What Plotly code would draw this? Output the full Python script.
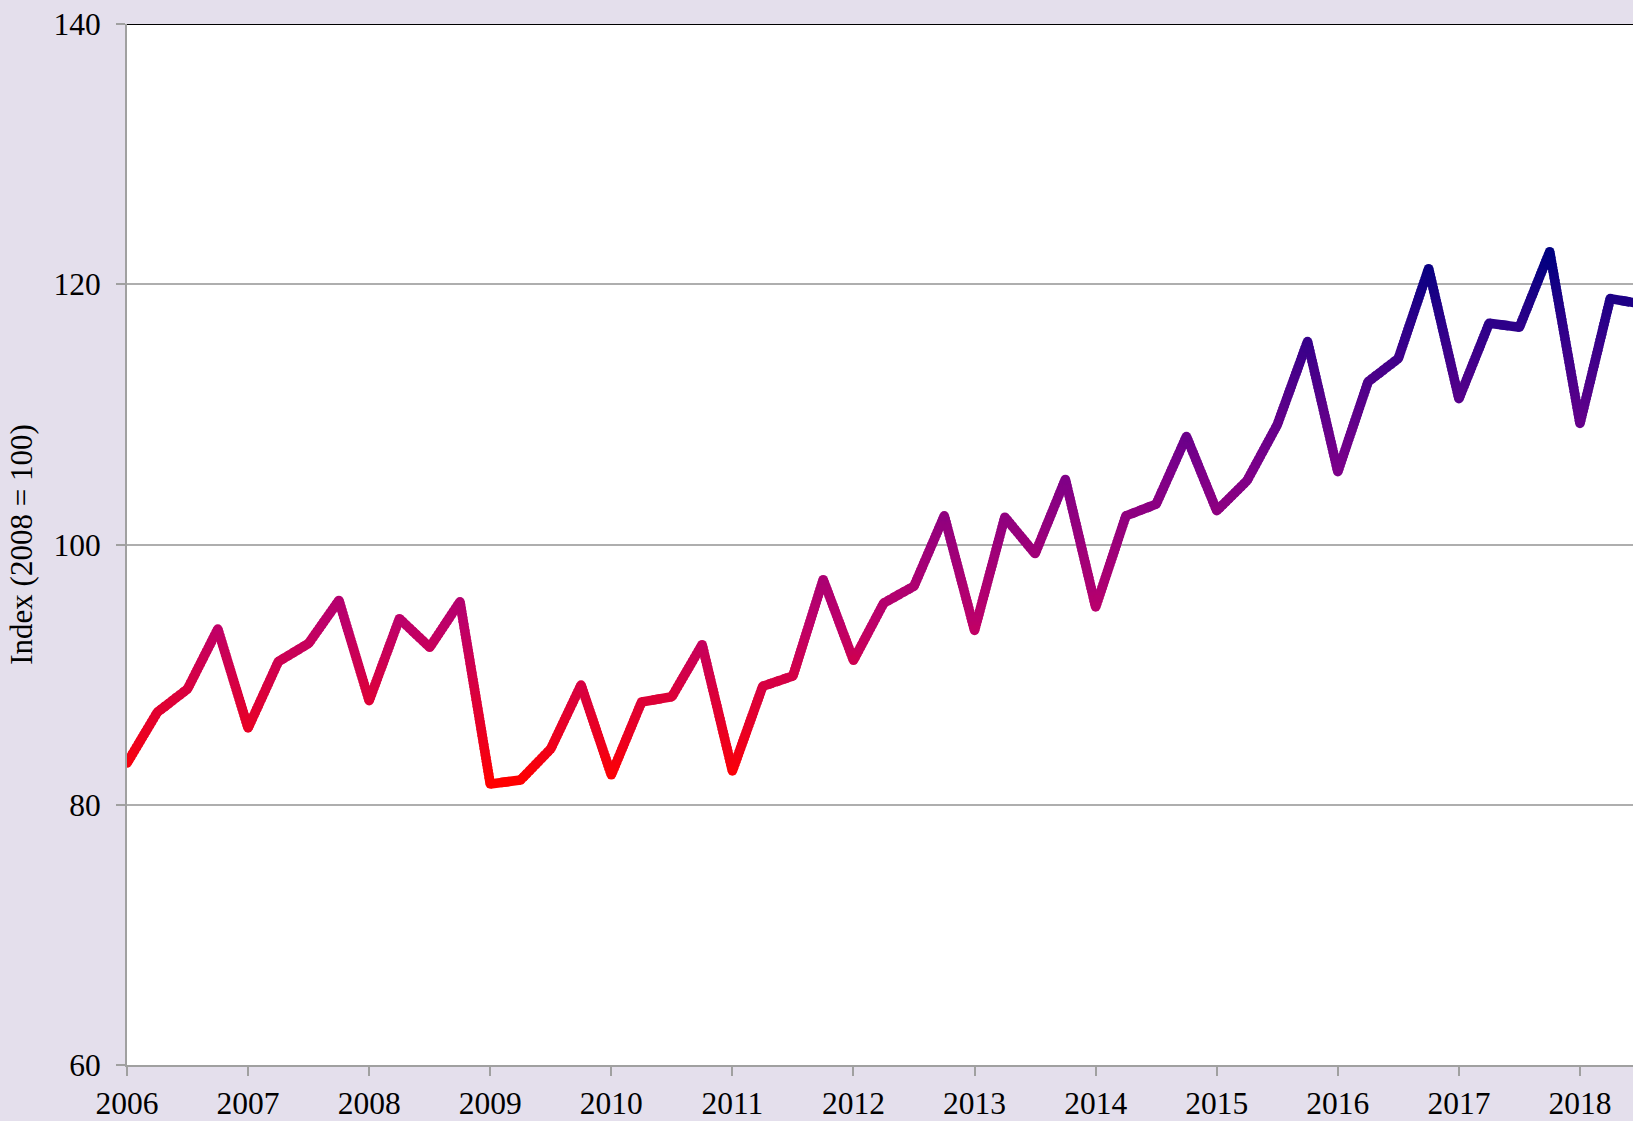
import math
import plotly.graph_objects as go

# Quarterly index, 2006 Q1 onwards (2008 = 100)
index_values = [
    83.2, 87.1, 88.9, 93.5,      # 2006
    85.9, 91.0, 92.4, 95.7,      # 2007
    88.0, 94.3, 92.1, 95.6,      # 2008
    81.6, 81.9, 84.3, 89.2,      # 2009
    82.3, 87.9, 88.3, 92.3,      # 2010
    82.6, 89.1, 89.9, 97.3,      # 2011
    91.1, 95.5, 96.8, 102.2,     # 2012
    93.4, 102.1, 99.3, 105.0,    # 2013
    95.2, 102.2, 103.1, 108.3,   # 2014
    102.6, 104.9, 109.2, 115.6,  # 2015
    105.6, 112.5, 114.3, 121.2,  # 2016
    111.2, 117.0, 116.7, 122.5,  # 2017
    109.3, 118.9, 118.5,         # 2018
]
quarter_labels = [f"{y}Q{q}" for y in range(2006, 2019) for q in range(1, 5)][:len(index_values)]
year_ticks = list(range(2006, 2019))
y_ticks = [60, 80, 100, 120, 140]

x_pos = [int(lbl[:4]) + (int(lbl[-1]) - 1) / 4 for lbl in quarter_labels]

# Vertical colour gradient of the line: red at the lowest value, navy at the highest
grad_stops = [
    (0.0, (255, 0, 0)),
    (0.3, (190, 0, 105)),
    (0.6, (122, 0, 138)),
    (0.85, (50, 0, 138)),
    (1.0, (0, 0, 128)),
]
v_lo, v_hi = min(index_values), max(index_values)


def grad_rgb(t):
    t = min(1.0, max(0.0, t))
    for (t0, c0), (t1, c1) in zip(grad_stops[:-1], grad_stops[1:]):
        if t <= t1:
            f = (t - t0) / (t1 - t0)
            return tuple(round(a + (b - a) * f) for a, b in zip(c0, c1))
    return grad_stops[-1][1]


def level(v):
    return (v - v_lo) / (v_hi - v_lo)


N_BINS = 90
LINE_W = 9.5
bins = {}

for i in range(len(x_pos) - 1):
    xa, xb = x_pos[i], x_pos[i + 1]
    ya, yb = index_values[i], index_values[i + 1]
    n = max(2, math.ceil(abs(yb - ya) / 0.25))
    for k in range(n):
        s0 = max(0.0, (k - 0.3) / n)
        s1 = min(1.0, (k + 1.3) / n)
        sm = (k + 0.5) / n
        b = round(level(ya + (yb - ya) * sm) * (N_BINS - 1))
        xs, ys = bins.setdefault(b, ([], []))
        xs += [xa + (xb - xa) * s0, xa + (xb - xa) * s1, None]
        ys += [ya + (yb - ya) * s0, ya + (yb - ya) * s1, None]

fig = go.Figure()

for b in sorted(bins):
    xs, ys = bins[b]
    r, g, bl = grad_rgb(b / (N_BINS - 1))
    fig.add_trace(go.Scatter(
        x=xs, y=ys, mode="lines",
        line=dict(color=f"rgb({r},{g},{bl})", width=LINE_W),
        hoverinfo="skip", showlegend=False, connectgaps=False,
    ))

# Round joins at each quarterly point
vertex_colors = ["rgb({},{},{})".format(*grad_rgb(level(v))) for v in index_values]
fig.add_trace(go.Scatter(
    x=x_pos, y=index_values, mode="markers",
    marker=dict(size=LINE_W, color=vertex_colors, line=dict(width=0)),
    text=quarter_labels, hovertemplate="%{text}: %{y:.1f}<extra></extra>",
    showlegend=False,
))

# Black rule along the top of the plot area
fig.add_shape(type="line", xref="paper", yref="y", x0=0, x1=1, y0=140, y1=140,
              line=dict(color="black", width=2.2), layer="above")

font = dict(family="Liberation Serif, Times New Roman, serif", size=31.5, color="black")

fig.update_layout(
    width=1633, height=1121,
    margin=dict(l=127, r=0, t=24, b=54, pad=0),
    paper_bgcolor="#E4DFEC",
    plot_bgcolor="white",
    font=font,
    showlegend=False,
    xaxis=dict(
        range=[2006, 2018.438],
        tickmode="array", tickvals=year_ticks, ticktext=[str(y) for y in year_ticks],
        showgrid=False, zeroline=False,
        showline=True, linecolor="#A0A0A0", linewidth=2,
        ticks="outside", ticklen=9, tickwidth=2, tickcolor="#A0A0A0",
        tickfont=font,
    ),
    yaxis=dict(
        range=[60, 140],
        tickmode="array", tickvals=y_ticks, ticktext=[str(v) for v in y_ticks],
        showgrid=True, gridcolor="#AEAEAE", gridwidth=1.5,
        zeroline=False,
        showline=True, linecolor="#A0A0A0", linewidth=2,
        ticks="outside", ticklen=9, tickwidth=2, tickcolor="#A0A0A0",
        ticklabelstandoff=9,
        tickfont=font,
        title=dict(text="Index (2008 = 100)", font=dict(family=font["family"], size=31, color="black"),
                   standoff=12),
    ),
)

fig.write_html("out.html")
